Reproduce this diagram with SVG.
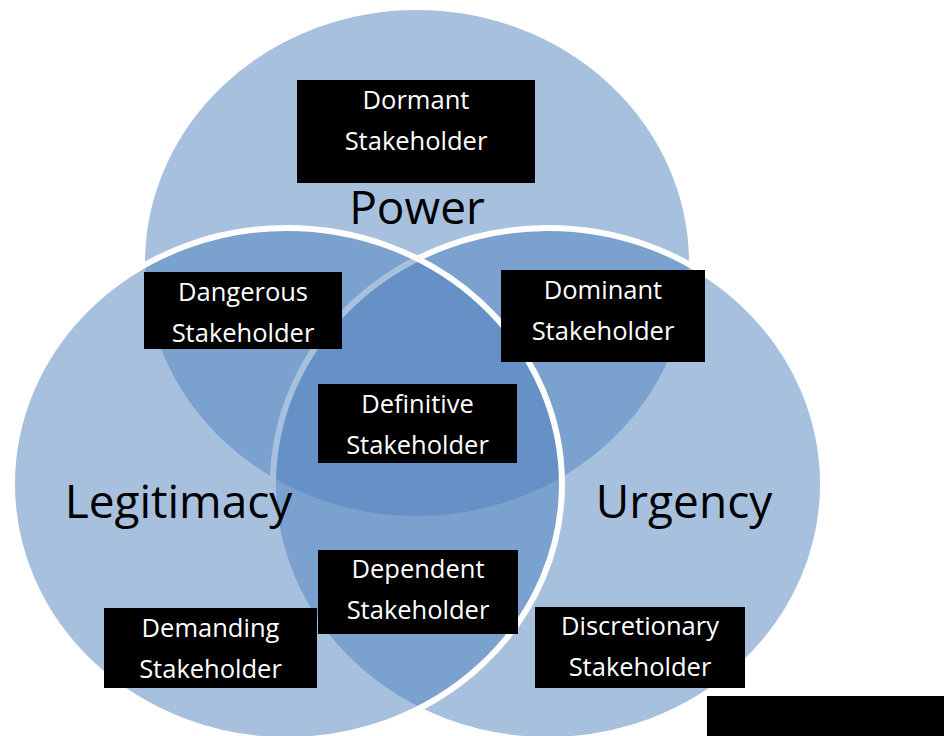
<svg xmlns="http://www.w3.org/2000/svg" width="944" height="736" viewBox="0 0 944 736">
  <style>
    .set { fill: #4F81BD; fill-opacity: 0.5; stroke: #FFFFFF; stroke-width: 6; }
    .box { fill: #000000; }
    .lbl { font-family: "Open Sans", "Liberation Sans", sans-serif; font-size: 25.5px; fill: #FFFFFF; text-anchor: middle; }
    .big { font-family: "Open Sans", "Liberation Sans", sans-serif; font-size: 46px; fill: #000000; text-anchor: middle; }
  </style>
  <rect width="944" height="736" fill="#FFFFFF"/>
  <g id="circles">
    <ellipse id="power-circle" class="set" cx="417" cy="263" rx="275" ry="256"/>
    <ellipse id="urgency-circle" class="set" cx="548" cy="484" rx="275" ry="256"/>
    <ellipse id="legitimacy-circle" class="set" cx="287" cy="484" rx="275" ry="256"/>
  </g>
  <g id="connectors"/>
  <g id="power-label"><text class="big" x="417" y="224">Power</text></g>
  <g id="legitimacy-label"><text class="big" x="178.5" y="518">Legitimacy</text></g>
  <g id="urgency-label"><text class="big" x="684" y="518">Urgency</text></g>
  <g id="dormant">
    <rect class="box" x="297" y="80" width="238" height="103"/>
    <text class="lbl" x="416" y="109">Dormant</text>
    <text class="lbl" x="416" y="150">Stakeholder</text>
  </g>
  <g id="dangerous">
    <rect class="box" x="144" y="272" width="198" height="77"/>
    <text class="lbl" x="243" y="301">Dangerous</text>
    <text class="lbl" x="243" y="342">Stakeholder</text>
  </g>
  <g id="dominant">
    <rect class="box" x="501" y="270" width="204" height="92"/>
    <text class="lbl" x="603" y="299">Dominant</text>
    <text class="lbl" x="603" y="340">Stakeholder</text>
  </g>
  <g id="definitive">
    <rect class="box" x="318" y="384" width="199" height="79"/>
    <text class="lbl" x="417.5" y="413">Definitive</text>
    <text class="lbl" x="417.5" y="454">Stakeholder</text>
  </g>
  <g id="dependent">
    <rect class="box" x="318" y="550" width="200" height="84"/>
    <text class="lbl" x="418" y="578">Dependent</text>
    <text class="lbl" x="418" y="619">Stakeholder</text>
  </g>
  <g id="demanding">
    <rect class="box" x="104" y="608" width="213" height="80"/>
    <text class="lbl" x="210.5" y="637">Demanding</text>
    <text class="lbl" x="210.5" y="678">Stakeholder</text>
  </g>
  <g id="discretionary">
    <rect class="box" x="535" y="607" width="210" height="81"/>
    <text class="lbl" x="640" y="635">Discretionary</text>
    <text class="lbl" x="640" y="676">Stakeholder</text>
  </g>
  <g id="blank-box">
    <rect class="box" x="707" y="696" width="237" height="40"/>
  </g>
</svg>
